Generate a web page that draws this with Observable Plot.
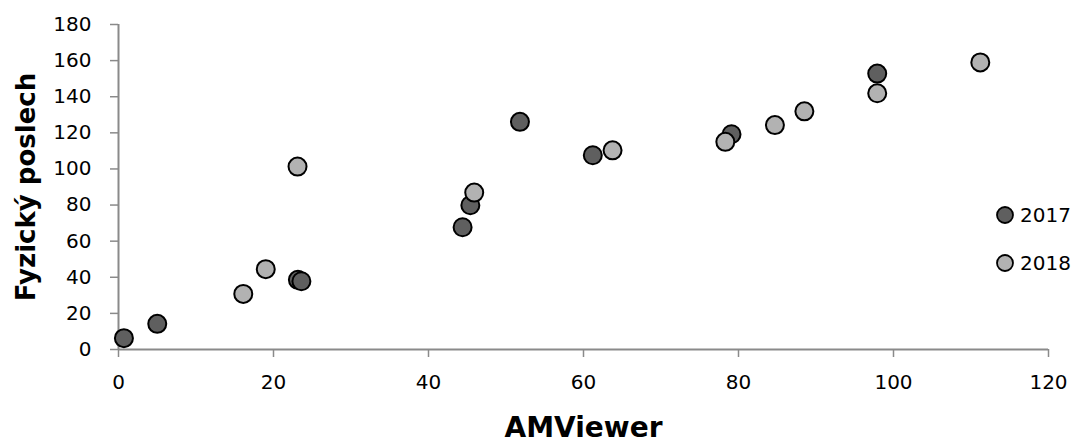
<!DOCTYPE html>
<html>
<head>
<meta charset="utf-8">
<script src="https://cdn.jsdelivr.net/npm/d3@7"></script>
<script src="https://cdn.jsdelivr.net/npm/@observablehq/plot@0.6"></script>
<style>
  html, body { margin: 0; padding: 0; background: #fff; }
  #wrap { position: relative; width: 1075px; height: 443px; font-family: "DejaVu Sans", sans-serif; }
  #legend { position: absolute; left: 995px; top: 203px; font-size: 20px; color: #000; }
  .item { display: flex; align-items: center; height: 24px; margin-bottom: 24px; }
  .item svg { margin-right: 5px; }
</style>
</head>
<body>
<div id="wrap">
  <div id="chart"></div>
  <div id="legend"></div>
</div>
<script>
const series = ["2017", "2018"];
const seriesColors = ["#5f5f5f", "#b2b2b2"];

const x2017 = [0.7, 5.0, 23.15, 23.6, 44.4, 45.4, 51.8, 61.2, 79.1, 97.9];
const y2017 = [6.3, 14.2, 38.6, 37.8, 67.7, 79.9, 126.1, 107.6, 119.2, 152.8];

const x2018 = [16.1, 19.0, 23.1, 45.9, 63.75, 78.3, 84.7, 88.5, 97.9, 111.2];
const y2018 = [30.8, 44.5, 101.3, 86.9, 110.3, 115.0, 124.3, 131.9, 141.9, 159.0];

const xTicks = [0, 20, 40, 60, 80, 100, 120];
const yTicks = [0, 20, 40, 60, 80, 100, 120, 140, 160, 180];

const xLabel = "AMViewer";
const yLabel = "Fyzický poslech";

const data = [
  ...x2017.map((x, i) => ({x, y: y2017[i], year: series[0]})),
  ...x2018.map((x, i) => ({x, y: y2018[i], year: series[1]}))
];

const axisColor = "#8a8a8a";

const chart = Plot.plot({
  width: 1075,
  height: 443,
  marginLeft: 118,
  marginRight: 27,
  marginTop: 24,
  marginBottom: 94,
  style: { fontFamily: "'DejaVu Sans', sans-serif", background: "#fff" },
  x: { domain: [0, 120] },
  y: { domain: [0, 180] },
  color: { domain: series, range: seriesColors },
  marks: [
    Plot.axisY({ ticks: yTicks, tickSize: 8, tickPadding: 19, fontSize: 20, stroke: axisColor, strokeWidth: 1.5, label: null }),
    Plot.axisX({ ticks: xTicks, tickSize: 8, tickPadding: 17, fontSize: 20, stroke: axisColor, strokeWidth: 1.5, label: null }),
    Plot.ruleX([0], { stroke: axisColor, strokeWidth: 2 }),
    Plot.ruleY([0], { stroke: axisColor, strokeWidth: 2, x1: 0, x2: 120 }),
    Plot.dot(data, { x: "x", y: "y", fill: "year", r: 9, stroke: "#000", strokeWidth: 2 }),
    Plot.text([xLabel], { frameAnchor: "bottom", dy: 87, fontSize: 28, fontWeight: "bold", fill: "#000" }),
    Plot.text([yLabel], { frameAnchor: "left", textAnchor: "middle", dx: -92, rotate: -90, fontSize: 26, fontWeight: "bold", fill: "#000" })
  ]
});
document.getElementById("chart").appendChild(chart);

const legend = document.getElementById("legend");
series.forEach((s, i) => {
  const div = document.createElement("div");
  div.className = "item";
  div.innerHTML = `<svg width="20" height="20"><circle cx="10" cy="10" r="8" fill="${seriesColors[i]}" stroke="#000" stroke-width="1.8"></circle></svg><span>${s}</span>`;
  legend.appendChild(div);
});
</script>
</body>
</html>
